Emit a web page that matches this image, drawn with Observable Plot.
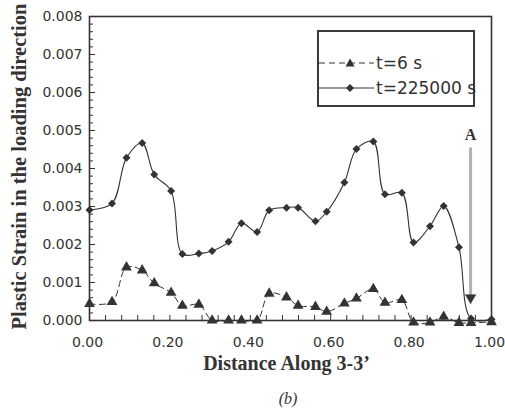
<!DOCTYPE html>
<html><head><meta charset="utf-8">
<script src="https://cdn.jsdelivr.net/npm/d3@7"></script>
<script src="https://cdn.jsdelivr.net/npm/@observablehq/plot@0.6"></script>
<style>
body{margin:0;background:#fff;}
#wrap{position:relative;width:505px;height:411px;}
#legend{position:absolute;left:317px;top:30px;width:154px;height:73px;border:2px solid #3a3a3a;font-family:"DejaVu Sans";font-size:17px;color:#333;}
.row{position:absolute;left:0;height:24px;display:flex;align-items:center;}
.row span{margin-left:2px;white-space:nowrap;}
#cap{position:absolute;left:238px;top:390px;width:100px;line-height:20px;text-align:center;font:italic 16px "Liberation Serif";color:#333;}
</style></head>
<body>
<div id="wrap">
<div id="chart"></div>
<div id="legend"></div>
<div id="cap"></div>
</div>
<script>
// ---- data ----
const distance = [0, 0.056, 0.092, 0.131, 0.161, 0.203, 0.231, 0.272, 0.305, 0.346, 0.378, 0.417, 0.447, 0.49, 0.519, 0.562, 0.59, 0.634, 0.664, 0.706, 0.735, 0.777, 0.806, 0.847, 0.881, 0.919, 0.949, 1.0];
const strain6s = [0.00044, 0.00049, 0.0014, 0.00132, 0.00098, 0.00073, 0.00039, 0.00042, 0, 0, 0, 0, 0.00071, 0.00061, 0.00039, 0.00036, 0.00023, 0.00045, 0.00058, 0.00083, 0.00047, 0.00054, -0.00005, -0.00005, 0.0001, -0.00006, -0.00006, -0.00004];
const strain225000s = [0.00291, 0.00308, 0.00428, 0.00467, 0.00384, 0.00341, 0.00175, 0.00176, 0.00183, 0.00207, 0.00256, 0.00233, 0.0029, 0.00297, 0.00297, 0.00261, 0.00286, 0.00363, 0.00451, 0.00471, 0.00332, 0.00336, 0.00205, 0.00248, 0.00301, 0.00193, 0.00005, 0.00003];
const seriesNames = ["t=6 s", "t=225000 s"];
const yTicks = [0, 0.001, 0.002, 0.003, 0.004, 0.005, 0.006, 0.007, 0.008];
const xTicks = [0, 0.2, 0.4, 0.6, 0.8, 1.0];
const xTitle = "Distance Along 3-3\u2019";
const yTitle = "Plastic Strain in the loading direction";
const caption = "(b)";
const arrowMark = [{x: 0.948, y1: 0.00454, y2: 0.00057, ly: 0.00488, label: "A"}];

const rows = distance.map((d, i) => ({d, s6: strain6s[i], s225: strain225000s[i]}));
const yMinor = d3.range(0, 41).map(i => i * 0.0002);
const xMinor = d3.range(0, 26).map(i => i * 0.04);

const downTri = {draw(ctx, size) {
  const h = Math.sqrt(size) * 0.62;
  ctx.moveTo(-h, -h * 0.8); ctx.lineTo(h, -h * 0.8); ctx.lineTo(0, h * 0.95); ctx.closePath();
}};

const ink = "#333";
const chart = Plot.plot({
  width: 505, height: 382,
  marginLeft: 89, marginRight: 14, marginTop: 16, marginBottom: 62,
  x: {domain: [0, 1]},
  y: {domain: [0, 0.008]},
  style: {fontFamily: "DejaVu Sans", fontSize: "14px", color: ink, background: "transparent"},
  marks: [
    Plot.axisY({ticks: yTicks, tickSize: 0, tickPadding: 7, tickFormat: d3.format(".3f"), label: null, fontSize: 14}),
    Plot.axisY({ticks: yMinor, tickSize: -4, text: null, label: null, stroke: ink}),
    Plot.axisY({ticks: yTicks, tickSize: -6, text: null, label: null, stroke: ink}),
    Plot.axisX({ticks: xTicks, tickSize: 0, tickPadding: 17, dx: -2, tickFormat: d3.format(".2f"), label: null, fontSize: 14}),
    Plot.axisX({ticks: xMinor, tickSize: -5, text: null, label: null, stroke: ink}),
    Plot.frame({stroke: ink, strokeWidth: 1.6}),
    Plot.ruleX(arrowMark, {x: "x", y1: "y1", y2: "y2", stroke: "#a9b6ae", strokeWidth: 3}),
    Plot.dot(arrowMark, {x: "x", y: "y2", symbol: downTri, r: 5, fill: ink, stroke: "#777", strokeWidth: 0.5}),
    Plot.text(arrowMark, {x: "x", y: "ly", text: "label", fontFamily: "Liberation Serif", fontWeight: "bold", fontSize: 16, fill: ink}),
    Plot.line(rows, {x: "d", y: "s6", stroke: ink, strokeWidth: 1, strokeDasharray: "6,4", curve: "catmull-rom"}),
    Plot.dot(rows, {x: "d", y: "s6", symbol: "triangle", fill: ink, r: 4}),
    Plot.line(rows, {x: "d", y: "s225", stroke: ink, strokeWidth: 1.1, curve: "catmull-rom"}),
    Plot.dot(rows, {x: "d", y: "s225", symbol: "diamond2", fill: ink, r: 3.6}),
    Plot.text([yTitle], {text: d => d, frameAnchor: "left", textAnchor: "middle", rotate: -90, dx: -70, dy: -2, fontFamily: "Liberation Serif", fontWeight: "bold", fontSize: 20.5, fill: ink}),
    Plot.text([xTitle], {text: d => d, frameAnchor: "bottom", textAnchor: "middle", dy: 49, dx: -4, fontFamily: "Liberation Serif", fontWeight: "bold", fontSize: 20, fill: ink})
  ]
});
document.getElementById("chart").appendChild(chart);

// legend
const leg = document.getElementById("legend");
const sw = [
  {name: seriesNames[0], dash: "6,4", sym: "tri"},
  {name: seriesNames[1], dash: null, sym: "dia"}
];
sw.forEach((s, i) => {
  const row = document.createElement("div");
  row.className = "row";
  row.style.top = (i === 0 ? 19 : 44) + "px";
  const marker = s.sym === "tri"
    ? '<path d="M31,-4.5 L35.5,3.5 L26.5,3.5 Z" fill="' + ink + '"/>'
    : '<path d="M31,-4 L35,0 L31,4 L27,0 Z" fill="' + ink + '"/>';
  row.innerHTML = '<svg width="55" height="24" viewBox="0 -12 55 24"><line x1="0" x2="55" y1="0" y2="0" stroke="' + ink + '" stroke-width="1"' + (s.dash ? ' stroke-dasharray="' + s.dash + '"' : '') + '/>' + marker + '</svg><span>' + s.name + '</span>';
  leg.appendChild(row);
});
document.getElementById("cap").textContent = caption;
</script>
</body></html>
